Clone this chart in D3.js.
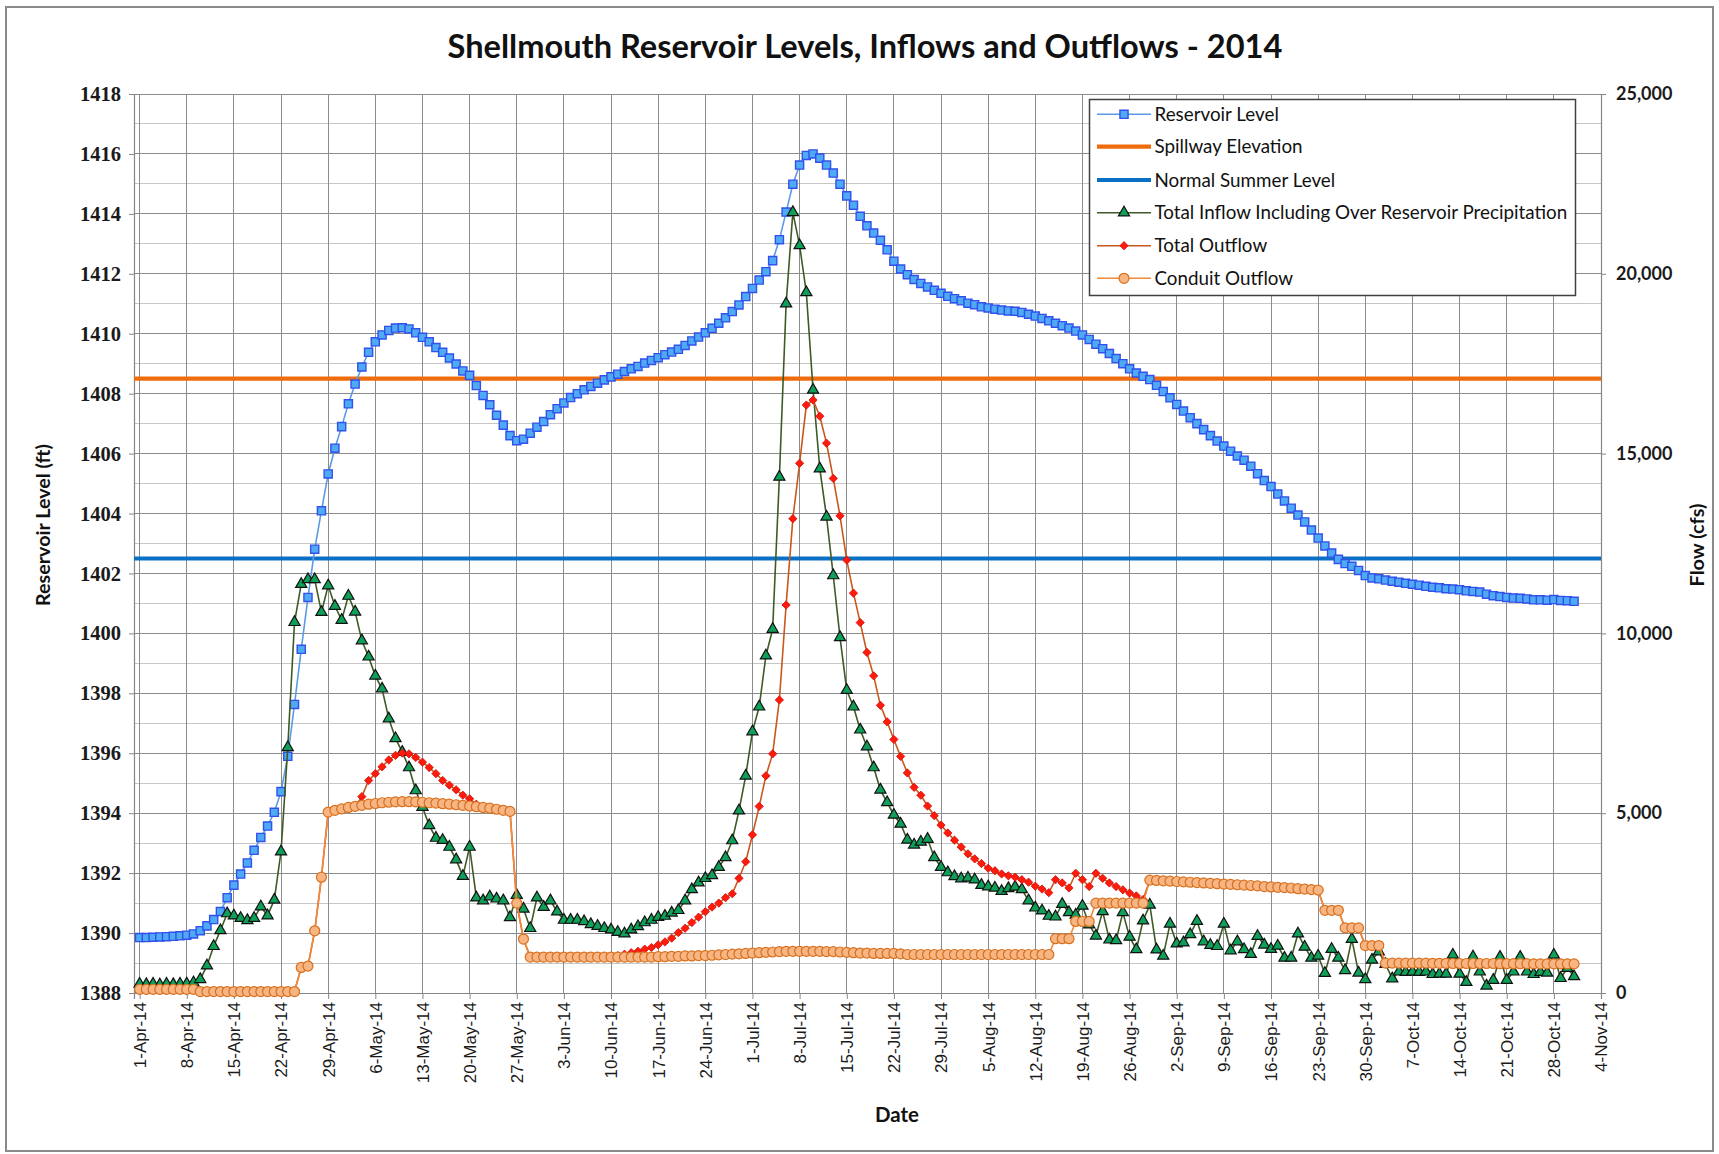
<!DOCTYPE html>
<html><head><meta charset="utf-8">
<script src="https://cdn.jsdelivr.net/npm/d3@7"></script>
<style>html,body{margin:0;padding:0;background:#fff;} svg{display:block;}</style>
</head><body>
<svg id="chart" width="1719" height="1154"></svg>
<script>
// ---------------- DATA (daily, starting 1-Apr-2014) ----------------
const startDate = [2014, 3, 1]; // UTC year, month index, day
const reservoirLevel = [
1389.85,1389.85,1389.86,1389.87,1389.88,1389.89,1389.91,1389.93,1389.97,1390.08,
1390.24,1390.45,1390.72,1391.18,1391.6,1391.97,1392.34,1392.76,1393.19,1393.57,
1394.03,1394.72,1395.9,1397.63,1399.47,1401.2,1402.81,1404.09,1405.32,1406.18,
1406.9,1407.66,1408.32,1408.89,1409.38,1409.73,1409.96,1410.11,1410.19,1410.2,
1410.16,1410.03,1409.88,1409.73,1409.54,1409.38,1409.19,1408.99,1408.76,1408.61,
1408.27,1407.94,1407.63,1407.28,1406.95,1406.6,1406.43,1406.48,1406.68,1406.88,
1407.07,1407.3,1407.5,1407.69,1407.87,1408.0,1408.13,1408.24,1408.35,1408.46,
1408.56,1408.65,1408.74,1408.83,1408.91,1409.02,1409.11,1409.2,1409.3,1409.39,
1409.48,1409.61,1409.76,1409.89,1410.03,1410.18,1410.35,1410.53,1410.74,1410.96,
1411.24,1411.51,1411.79,1412.07,1412.44,1413.14,1414.06,1414.99,1415.63,1415.95,
1416.0,1415.86,1415.63,1415.36,1414.99,1414.6,1414.29,1413.92,1413.6,1413.36,
1413.12,1412.8,1412.42,1412.16,1411.97,1411.81,1411.68,1411.56,1411.45,1411.35,
1411.25,1411.17,1411.1,1411.02,1410.97,1410.9,1410.86,1410.82,1410.79,1410.76,
1410.75,1410.71,1410.65,1410.59,1410.51,1410.43,1410.35,1410.27,1410.19,1410.09,
1409.96,1409.81,1409.65,1409.5,1409.34,1409.17,1409.0,1408.83,1408.69,1408.58,
1408.47,1408.28,1408.07,1407.86,1407.64,1407.42,1407.2,1407.0,1406.8,1406.6,
1406.42,1406.25,1406.08,1405.92,1405.78,1405.58,1405.33,1405.1,1404.9,1404.65,
1404.42,1404.18,1403.95,1403.72,1403.45,1403.18,1402.92,1402.68,1402.47,1402.33,
1402.24,1402.1,1401.93,1401.85,1401.82,1401.78,1401.74,1401.71,1401.67,1401.64,
1401.61,1401.57,1401.54,1401.52,1401.49,1401.48,1401.46,1401.42,1401.4,1401.38,
1401.31,1401.26,1401.23,1401.2,1401.18,1401.17,1401.15,1401.12,1401.12,1401.11,
1401.13,1401.1,1401.09,1401.07];

const totalInflow = [
250,240,250,230,250,240,250,260,290,380,
760,1300,1740,2210,2150,2080,2020,2080,2400,2150,
2590,3930,6830,10310,11370,11500,11500,10590,11330,10760,
10370,11040,10600,9800,9350,8820,8460,7630,7080,6700,
6270,5630,5170,4660,4310,4250,4060,3710,3250,4060,
2650,2570,2680,2620,2570,2100,2720,2340,1800,2650,
2390,2570,2260,2030,2030,2030,1990,1910,1860,1800,
1760,1690,1650,1760,1850,1960,2030,2110,2140,2230,
2300,2570,2880,3070,3190,3270,3500,3770,4240,5070,
6040,7270,7960,9380,10120,14350,19170,21710,20790,19480,
16770,14580,13240,11610,9890,8420,7960,7320,6850,6270,
5650,5300,4950,4700,4260,4120,4200,4280,3770,3500,
3350,3240,3180,3200,3150,3000,2960,2920,2830,2910,
2950,2880,2570,2370,2290,2140,2120,2470,2240,2170,
2420,1900,1590,2270,1480,1460,2240,1560,1210,2010,
2450,1205,1030,1920,1370,1400,1630,2000,1430,1330,
1300,1920,1180,1430,1210,1080,1580,1340,1220,1310,
975,975,1650,1280,975,1030,550,1220,975,630,
1500,560,380,920,1150,800,400,590,580,590,
580,590,520,530,530,1060,530,300,1010,590,
200,360,1000,360,590,1000,590,520,580,560,
1060,410,690,460];

const totalOutflow = [
100,100,100,100,100,100,100,100,100,40,
40,40,40,40,40,40,40,40,40,40,
40,40,40,40,710,750,1730,3220,5030,5080,
5120,5160,5190,5460,5910,6100,6290,6480,6610,6670,
6650,6550,6420,6270,6100,5910,5780,5650,5500,5400,
5250,5160,5140,5110,5080,5050,2500,1500,1000,1000,
1000,1000,1000,1000,1000,1000,1000,1000,1000,1000,
1010,1040,1080,1120,1160,1220,1265,1340,1420,1525,
1680,1800,1960,2110,2260,2390,2500,2650,2760,3190,
3650,4400,5190,6040,6650,8150,10790,13190,14730,16350,
16490,16040,15290,14310,13270,12040,11120,10300,9470,8820,
8000,7540,7050,6580,6120,5720,5500,5200,4930,4670,
4450,4250,4060,3870,3730,3600,3470,3400,3310,3260,
3220,3150,3080,2970,2890,2790,3150,3060,2920,3330,
3150,2960,3330,3190,3060,2960,2870,2780,2700,2600,
3140,3130,3120,3110,3100,3090,3080,3070,3060,3050,
3040,3030,3020,3010,3000,2990,2980,2960,2950,2940,
2930,2920,2900,2890,2875,2860,2300,2300,2300,1810,
1810,1810,1320,1320,1320,830,830,830,830,830,
830,830,825,825,825,820,820,820,820,820,
820,820,815,815,815,815,815,810,810,810,
810,810,810,810];

const conduitOutflow = [
100,100,100,100,100,100,100,100,100,40,
40,40,40,40,40,40,40,40,40,40,
40,40,40,40,710,750,1730,3220,5030,5080,
5120,5160,5190,5220,5250,5270,5290,5305,5315,5320,
5320,5315,5305,5290,5280,5265,5250,5235,5220,5200,
5180,5160,5140,5110,5080,5050,2500,1500,1000,1000,
1000,1000,1000,1000,1000,1000,1000,1000,1000,1000,
1000,1000,1000,1000,1000,1000,1000,1010,1010,1020,
1020,1030,1030,1040,1040,1050,1060,1070,1080,1090,
1100,1110,1120,1130,1140,1150,1160,1160,1160,1160,
1160,1160,1150,1150,1140,1130,1120,1110,1110,1100,
1100,1100,1100,1090,1070,1070,1070,1070,1070,1070,
1070,1070,1070,1070,1070,1070,1070,1070,1070,1070,
1070,1070,1070,1070,1070,1070,1510,1510,1510,1990,
1990,1990,2500,2500,2500,2500,2500,2500,2500,2500,
3140,3130,3120,3110,3100,3090,3080,3070,3060,3050,
3040,3030,3020,3010,3000,2990,2980,2960,2950,2940,
2930,2920,2900,2890,2875,2860,2300,2300,2300,1810,
1810,1810,1320,1320,1320,830,830,830,830,830,
830,830,825,825,825,820,820,820,820,820,
820,820,815,815,815,815,815,810,810,810,
810,810,810,810];

const spillwayElevation = 1408.5;
const normalSummerLevel = 1402.5;
const levelTicks = [1388,1390,1392,1394,1396,1398,1400,1402,1404,1406,1408,1410,1412,1414,1416,1418];
const flowTicks = [0,5000,10000,15000,20000,25000];
const titleText = "Shellmouth Reservoir Levels, Inflows and Outflows - 2014";
const legendLabels = ["Reservoir Level","Spillway Elevation","Normal Summer Level",
  "Total Inflow Including Over Reservoir Precipitation","Total Outflow","Conduit Outflow"];

// ---------------- CHART ----------------
const svg = d3.select("#chart");
const L = 134, R = 1601, T = 94, B = 993;

const t0 = new Date(Date.UTC(startDate[0], startDate[1], startDate[2]));
const dates = reservoirLevel.map((_, i) => d3.utcDay.offset(t0, i));
const x = d3.scaleUtc()
  .domain([new Date(Date.UTC(2014, 2, 31, 4)), new Date(Date.UTC(2014, 10, 4))])
  .range([L, R]);
const yL = d3.scaleLinear().domain([1388, 1418]).range([B, T]);
const yR = d3.scaleLinear().domain([0, 25000]).range([B, T]);
const weekTicks = d3.utcDay.range(t0, new Date(Date.UTC(2014, 10, 5)), 7);
const fmt = d3.utcFormat("%-d-%b-%y");

// chart border
svg.append("rect").attr("x", 0).attr("y", 0).attr("width", 1719).attr("height", 1154).attr("fill", "#fff");
svg.append("rect").attr("x", 6).attr("y", 7).attr("width", 1707).attr("height", 1144)
  .attr("fill", "none").attr("stroke", "#8a8a8a").attr("stroke-width", 2);

// gridlines
const grid = svg.append("g").attr("shape-rendering", "crispEdges");
grid.selectAll("line.h").data(d3.range(1389, 1419)).join("line")
  .attr("x1", L).attr("x2", R).attr("y1", d => yL(d)).attr("y2", d => yL(d))
  .attr("stroke", d => d % 2 === 0 ? "#8c8c8c" : "#c6c6c6").attr("stroke-width", 1);
grid.selectAll("line.v").data(weekTicks).join("line")
  .attr("x1", d => x(d)).attr("x2", d => x(d)).attr("y1", T).attr("y2", B)
  .attr("stroke", "#8c8c8c").attr("stroke-width", 1);

// axes
const axisColor = "#868686";
const axL = svg.append("g").attr("transform", `translate(${L},0)`)
  .call(d3.axisLeft(yL).tickValues(levelTicks).tickSize(5).tickPadding(8).tickFormat(d3.format("d")));
const axR = svg.append("g").attr("transform", `translate(${R},0)`)
  .call(d3.axisRight(yR).tickValues(flowTicks).tickSize(5).tickPadding(10).tickFormat(d3.format(",")));
const axB = svg.append("g").attr("transform", `translate(0,${B})`)
  .call(d3.axisBottom(x).tickValues(weekTicks).tickSize(6).tickFormat(fmt));
[axL, axR, axB].forEach(a => {
  a.select(".domain").attr("stroke", axisColor).attr("stroke-width", 1.2);
  a.selectAll(".tick line").attr("stroke", axisColor);
});
axL.selectAll("text").attr("font-family", "Liberation Serif").attr("font-weight", "bold")
  .attr("font-size", 20.5).attr("fill", "#1a1a1a");
axR.selectAll("text").attr("font-family", "Lato").attr("font-weight", "bold")
  .attr("font-size", 18).attr("fill", "#1a1a1a");
axB.selectAll("text").attr("font-family", "Liberation Sans").attr("font-size", 17)
  .attr("fill", "#1a1a1a").attr("transform", "rotate(-90)")
  .attr("x", -9).attr("y", 0).attr("dy", "0.35em").attr("text-anchor", "end");

function fitText(sel, target) {
  const w = sel.node().getComputedTextLength();
  const fs = parseFloat(sel.attr("font-size"));
  if (w > 0) sel.attr("font-size", fs * target / w);
}

// titles
const title = svg.append("text").attr("x", 865).attr("y", 57.5).attr("text-anchor", "middle")
  .attr("font-family", "Lato").attr("font-weight", "bold").attr("font-size", 28).attr("fill", "#111")
  .text(titleText);
fitText(title, 835);

const ytl = svg.append("text").attr("transform", "translate(43,525) rotate(-90)")
  .attr("text-anchor", "middle").attr("dy", "0.35em")
  .attr("font-family", "Lato").attr("font-weight", "bold").attr("font-size", 17).attr("fill", "#111")
  .text("Reservoir Level (ft)");
fitText(ytl, 162);
const ytr = svg.append("text").attr("transform", "translate(1697,545) rotate(-90)")
  .attr("text-anchor", "middle").attr("dy", "0.35em")
  .attr("font-family", "Lato").attr("font-weight", "bold").attr("font-size", 17).attr("fill", "#111")
  .text("Flow (cfs)");
fitText(ytr, 83);
const xt = svg.append("text").attr("x", 897).attr("y", 1122).attr("text-anchor", "middle")
  .attr("font-family", "Lato").attr("font-weight", "bold").attr("font-size", 17).attr("fill", "#111")
  .text("Date");
fitText(xt, 44);

// styles
const sty = {
  res: { line: "#5b9be6", fill: "#4faaf5", stroke: "#3150ec" },
  spill: "#ef6c0c",
  normal: "#0a70c4",
  inflow: { line: "#3f5a26", fill: "#0f9f58", stroke: "#111" },
  outflow: { line: "#c8581c", fill: "#ff1a0a", stroke: "#d01010" },
  conduit: { line: "#f28a3a", fill: "#f7b583", stroke: "#d8701e" }
};
const symSquare = d3.symbol().type(d3.symbolSquare).size(66);
const symTri = d3.symbol().type(d3.symbolTriangle).size(54);
const symDia = d3.symbol().type(d3.symbolSquare).size(34);

const plot = svg.append("g");

// horizontal reference lines
plot.append("line").attr("x1", L).attr("x2", R)
  .attr("y1", yL(spillwayElevation)).attr("y2", yL(spillwayElevation))
  .attr("stroke", sty.spill).attr("stroke-width", 4.2);
plot.append("line").attr("x1", L).attr("x2", R)
  .attr("y1", yL(normalSummerLevel)).attr("y2", yL(normalSummerLevel))
  .attr("stroke", sty.normal).attr("stroke-width", 4.2);

// Reservoir level
const lineL = d3.line().x((d, i) => x(dates[i])).y(d => yL(d));
const lineR = d3.line().x((d, i) => x(dates[i])).y(d => yR(d));
plot.append("path").attr("d", lineL(reservoirLevel)).attr("fill", "none")
  .attr("stroke", sty.res.line).attr("stroke-width", 1.6);
plot.append("g").selectAll("path").data(reservoirLevel).join("path")
  .attr("d", symSquare).attr("transform", (d, i) => `translate(${x(dates[i])},${yL(d)})`)
  .attr("fill", sty.res.fill).attr("stroke", sty.res.stroke).attr("stroke-width", 1.4);

// Total inflow
plot.append("path").attr("d", lineR(totalInflow)).attr("fill", "none")
  .attr("stroke", sty.inflow.line).attr("stroke-width", 1.6);
plot.append("g").selectAll("path").data(totalInflow).join("path")
  .attr("d", symTri).attr("transform", (d, i) => `translate(${x(dates[i])},${yR(d)})`)
  .attr("fill", sty.inflow.fill).attr("stroke", sty.inflow.stroke).attr("stroke-width", 1.2);

// Total outflow
plot.append("path").attr("d", lineR(totalOutflow)).attr("fill", "none")
  .attr("stroke", sty.outflow.line).attr("stroke-width", 1.6);
plot.append("g").selectAll("path").data(totalOutflow).join("path")
  .attr("d", symDia).attr("transform", (d, i) => `translate(${x(dates[i])},${yR(d)}) rotate(45)`)
  .attr("fill", sty.outflow.fill).attr("stroke", sty.outflow.stroke).attr("stroke-width", 0.8);

// Conduit outflow
plot.append("path").attr("d", lineR(conduitOutflow)).attr("fill", "none")
  .attr("stroke", sty.conduit.line).attr("stroke-width", 1.6);
plot.append("g").selectAll("circle").data(conduitOutflow).join("circle")
  .attr("cx", (d, i) => x(dates[i])).attr("cy", d => yR(d)).attr("r", 5)
  .attr("fill", sty.conduit.fill).attr("stroke", sty.conduit.stroke).attr("stroke-width", 1.2);

// legend
const lg = svg.append("g");
lg.append("rect").attr("x", 1089.5).attr("y", 99.5).attr("width", 486).attr("height", 196)
  .attr("fill", "#fff").attr("stroke", "#404040").attr("stroke-width", 1.5);
const rowsY = [114.3, 146.7, 180, 212.7, 245.7, 278.3];
const lx1 = 1097, lx2 = 1151, lmx = 1124;
const legendSpec = [
  { c: sty.res.line, w: 1.6, m: "sq" },
  { c: sty.spill, w: 4.2 },
  { c: sty.normal, w: 4.2 },
  { c: sty.inflow.line, w: 1.6, m: "tri" },
  { c: sty.outflow.line, w: 1.6, m: "dia" },
  { c: sty.conduit.line, w: 1.6, m: "cir" }
];
legendLabels.forEach((lab, k) => {
  const y = rowsY[k], s = legendSpec[k];
  lg.append("line").attr("x1", lx1).attr("x2", lx2).attr("y1", y).attr("y2", y)
    .attr("stroke", s.c).attr("stroke-width", s.w);
  if (s.m === "sq") lg.append("path").attr("d", symSquare).attr("transform", `translate(${lmx},${y})`)
    .attr("fill", sty.res.fill).attr("stroke", sty.res.stroke).attr("stroke-width", 1.4);
  if (s.m === "tri") lg.append("path").attr("d", symTri).attr("transform", `translate(${lmx},${y})`)
    .attr("fill", sty.inflow.fill).attr("stroke", sty.inflow.stroke).attr("stroke-width", 1.2);
  if (s.m === "dia") lg.append("path").attr("d", symDia).attr("transform", `translate(${lmx},${y}) rotate(45)`)
    .attr("fill", sty.outflow.fill).attr("stroke", sty.outflow.stroke).attr("stroke-width", 0.8);
  if (s.m === "cir") lg.append("circle").attr("cx", lmx).attr("cy", y).attr("r", 5)
    .attr("fill", sty.conduit.fill).attr("stroke", sty.conduit.stroke).attr("stroke-width", 1.2);
  lg.append("text").attr("class", "lgt").attr("x", 1154.5).attr("y", y).attr("dy", "0.35em")
    .attr("font-family", "Lato").attr("font-size", 16).attr("fill", "#111").text(lab);
});
// size legend text so the longest label spans the measured width
const lgTexts = lg.selectAll("text.lgt");
const longest = lgTexts.filter((d, i) => i === 3);
const w3 = longest.node().getComputedTextLength();
const fsL = 16 * 413 / w3;
lgTexts.attr("font-size", fsL);
</script>
</body></html>
